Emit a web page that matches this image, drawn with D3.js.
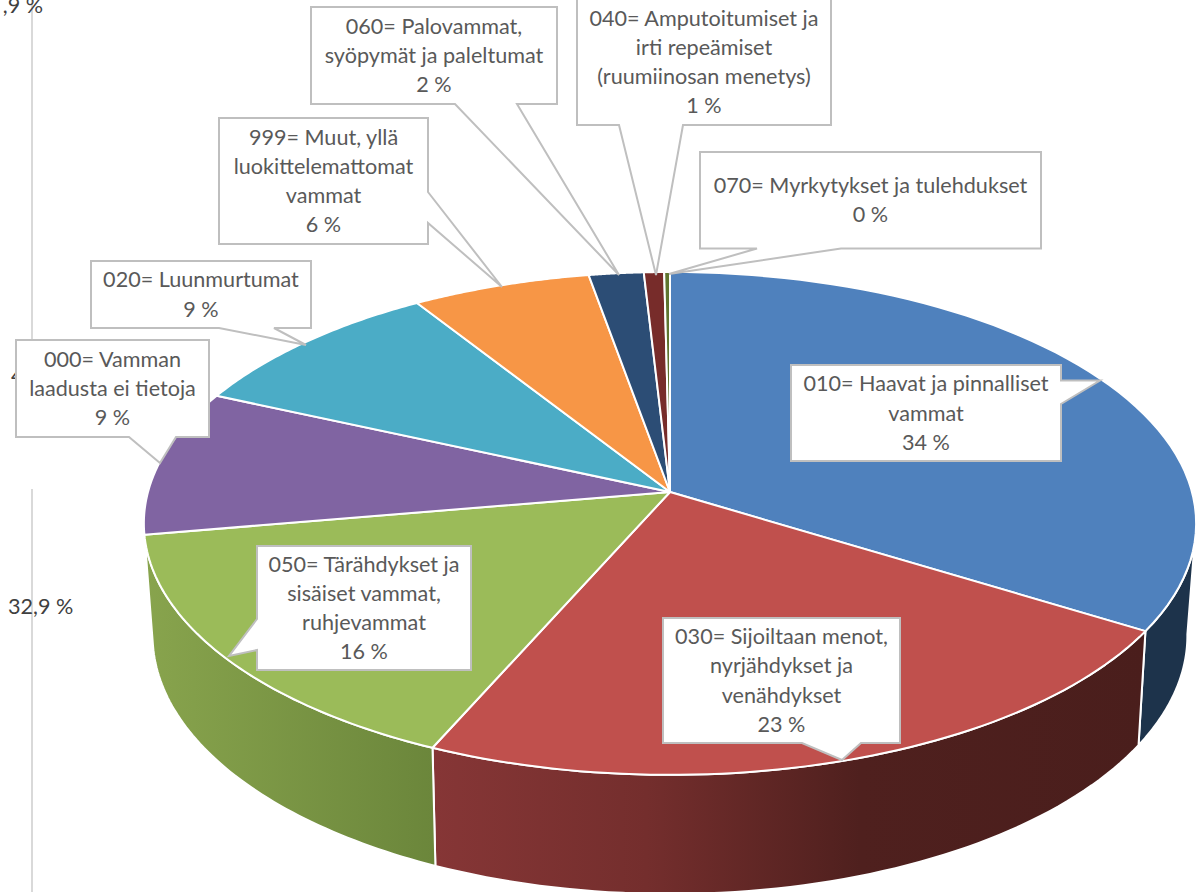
<!DOCTYPE html>
<html><head><meta charset="utf-8">
<script src="https://cdn.jsdelivr.net/npm/d3@7/dist/d3.min.js"></script>
<style>html,body{margin:0;padding:0;background:#fff;overflow:hidden}svg{display:block}text{font-family:Lato,"Open Sans",sans-serif}</style>
</head><body><svg id="c" width="1196" height="892"></svg>
<script>
// Data, clockwise from 12 o'clock
const categories = [
 ["010= Haavat ja pinnalliset","vammat"],
 ["030= Sijoiltaan menot,","nyrjähdykset ja","venähdykset"],
 ["050= Tärähdykset ja","sisäiset vammat,","ruhjevammat"],
 ["000= Vamman","laadusta ei tietoja"],
 ["020= Luunmurtumat"],
 ["999= Muut, yllä","luokittelemattomat","vammat"],
 ["060= Palovammat,","syöpymät ja paleltumat"],
 ["040= Amputoitumiset ja","irti repeämiset","(ruumiinosan menetys)"],
 ["070= Myrkytykset ja tulehdukset"]
];
const values = [33.8,22.8,15.7,9.4,9.3,6.2,1.9,0.7,0.2];
const strayLabels = [",9 %","4","32,9 %"];

// Styling / layout
const topColors = ["#4f81bd","#c0504d","#9bbb59","#8064a2","#4bacc6","#f79646","#2c4d75","#772c2a","#5f7530"];
const wallStops = [
 [[0,"#1d334b"],[1,"#1d334b"]],
 [[0,"#863636"],[.3,"#742e2d"],[.6,"#4f201e"],[1,"#4a1e1c"]],
 [[0,"#88a44d"],[1,"#6b863b"]]
];
// box x0,y0,x1,y1 ; tail base a, tip, base b
const callouts = [
 {b:[791,365,1061,461],t:[[1061,380.5],[1100,380.5],[1061,404]]},
 {b:[663,618,900,743],t:[[861,743],[842,760],[802,743]]},
 {b:[257,546,471,670],t:[[257,650],[229,656],[257,619]]},
 {b:[16,340,209,437],t:[[176,437],[160,463],[129,437]]},
 {b:[91,261,311,328],t:[[274,328],[306,345],[219,328]]},
 {b:[219,118,428,244],t:[[428,192],[502,287],[428,223]]},
 {b:[311,7,557,104],t:[[517,104],[619,275],[455,104]]},
 {b:[577,-1,831,125],t:[[683,125],[656,275],[619,125]]},
 {b:[700,152,1041,248.5],t:[[841,248.5],[669,274],[757,248.5]]}
];
const order = [8,7,6,5,4,3,2,1,0];

const svg = d3.select("#c");
const defs = svg.append("defs");
const arcs = d3.pie().sort(null).startAngle(0).endAngle(2*Math.PI)(values);

// perspective projection of the pie's top and bottom faces
const face = {top:{a:522,k:247.5,p:.125,y:492}, bot:{a:513,k:254,p:.13,y:602}};
function proj(f,th){
  const u=Math.sin(th), v=-Math.cos(th), s=1/(1-f.p*v);
  return [670+f.a*u*s, f.y+f.k*v*s];
}
const line=d3.line();
const samples=(a0,a1)=>d3.range(0,61).map(i=>a0+(a1-a0)*i/60);

// stray axis leftovers
svg.append("g").selectAll("line").data([[0,345],[489,892]]).join("line")
 .attr("x1",32).attr("x2",32).attr("y1",d=>d[0]).attr("y2",d=>d[1])
 .attr("stroke","#d9d9d9").attr("stroke-width",2);
const strayPos=[[43,13,"end"],[11,383,"start"],[8,614,"start"]];
strayLabels.forEach((s,i)=>svg.append("text").text(s).attr("x",strayPos[i][0]).attr("y",strayPos[i][1])
  .attr("text-anchor",strayPos[i][2]).attr("font-size",21.6).attr("fill","#404040"));

// walls
const wallMin=97.2*Math.PI/180;
const wallMax=arcs[2].endAngle;
arcs.slice(0,3).forEach((d,i)=>{
  const a0=Math.max(d.startAngle,wallMin), a1=Math.min(d.endAngle,wallMax);
  const s=samples(a0,a1);
  const pts=s.map(t=>proj(face.top,t)).concat(s.slice().reverse().map(t=>proj(face.bot,t)));
  const xs=d3.extent(pts,p=>p[0]);
  const g=defs.append("linearGradient").attr("id","w"+i).attr("gradientUnits","userSpaceOnUse")
    .attr("x1",xs[0]).attr("x2",xs[1]).attr("y1",0).attr("y2",0);
  wallStops[i].forEach(st=>g.append("stop").attr("offset",st[0]).attr("stop-color",st[1]));
  svg.append("path").attr("d",line(pts)+"Z").attr("fill",`url(#w${i})`)
    .attr("stroke","#fff").attr("stroke-width",2).attr("stroke-linejoin","round");
});

// top face
svg.append("g").selectAll("path").data(arcs).join("path")
 .attr("d",d=>{
   const s=samples(d.startAngle,d.endAngle).map(t=>proj(face.top,t));
   return line([[670,492],...s])+"Z";
 })
 .attr("fill",(d,i)=>topColors[i]).attr("stroke","#fff").attr("stroke-width",2).attr("stroke-linejoin","round");

// callouts
order.forEach(i=>{
  const c=callouts[i],[x0,y0,x1,y1]=c.b;
  let pts;
  const t=c.t;
  if(t[0][1]===y1 && t[2][1]===y1) pts=[[x0,y0],[x1,y0],[x1,y1],t[0],t[1],t[2],[x0,y1]];
  else if(t[0][0]===x1) pts=[[x0,y0],[x1,y0],t[0],t[1],t[2],[x1,y1],[x0,y1]];
  else pts=[[x0,y0],[x1,y0],[x1,y1],[x0,y1],t[0],t[1],t[2]];
  const g=svg.append("g");
  g.append("path").attr("d",line(pts)+"Z").attr("fill","#fff").attr("stroke","#bfbfbf").attr("stroke-width",2);
  const lines=categories[i].concat([Math.round(values[i])+" %"]);
  const lh=29.2, cy=(y0+y1)/2, cx=(x0+x1)/2;
  g.selectAll("text").data(lines).join("text").text(d=>d)
   .attr("x",cx).attr("y",(d,j)=>cy+(j-(lines.length-1)/2)*lh+7.5)
   .attr("text-anchor","middle").attr("font-size",21.6).attr("fill","#595959");
});
</script></body></html>
